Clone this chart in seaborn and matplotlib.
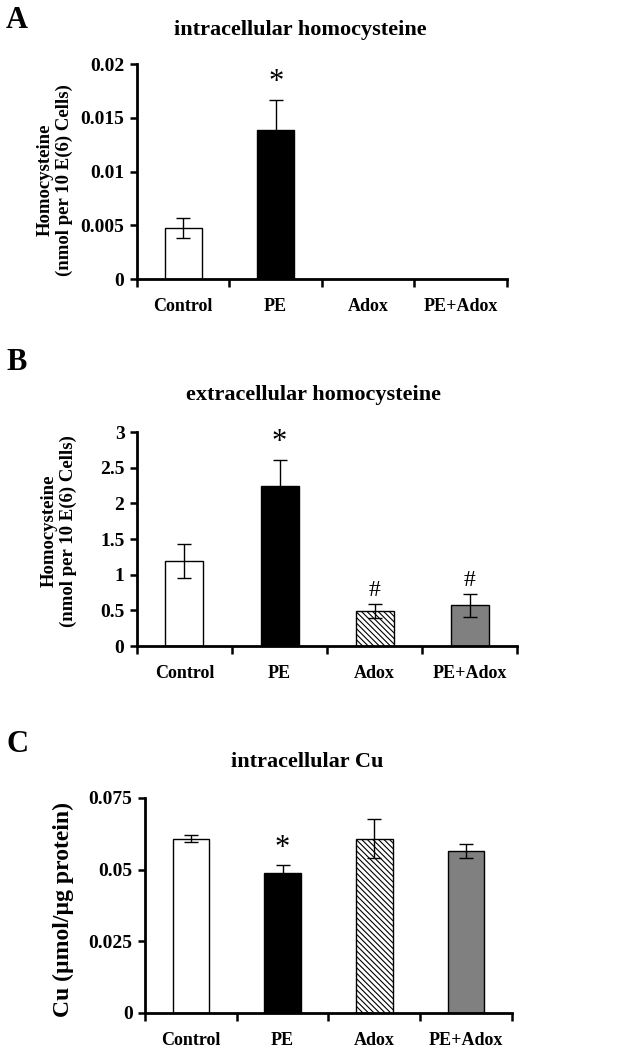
import numpy as np
import pandas as pd
import matplotlib
matplotlib.use('Agg')
import matplotlib.pyplot as plt
import seaborn as sns

# dados
grupos = ['Control', 'PE', 'Adox', 'PE+Adox']

hcy_intra = [0.00475, 0.0139, np.nan, np.nan]
hcy_intra_err = [0.00095, 0.0028, np.nan, np.nan]

hcy_extra = [1.19, 2.25, 0.49, 0.57]
hcy_extra_err = [0.24, 0.36, 0.10, 0.16]

cu_intra = [0.0608, 0.0487, 0.0608, 0.0565]
cu_intra_err = [0.0012, 0.0028, 0.0069, 0.0025]

sig_a = ['', '*', '', '']
sig_b = ['', '*', '#', '#']
sig_c = ['', '*', '', '']

cores = ['white', 'black', 'white', '#808080']
hachuras = [None, None, '\\\\\\\\\\\\', None]

sns.set_style('white')
plt.rcParams['font.family'] = ['Liberation Serif', 'DejaVu Serif']
plt.rcParams['font.weight'] = 'bold'
plt.rcParams['hatch.linewidth'] = 0.8
for chave in ['text.color', 'axes.labelcolor', 'xtick.color', 'ytick.color']:
    plt.rcParams[chave] = 'black'


def painel(ax, valores, erros, sinais, ymax, yticks, yticklabels, ylabel, ylabel_size, ylabel_pos):
    df = pd.DataFrame({'grupo': grupos, 'valor': valores})
    sns.barplot(data=df, x='grupo', y='valor', hue='grupo', palette=cores,
                width=0.4, edgecolor='black', linewidth=1.0, legend=False, ax=ax)
    for patch, h in zip(ax.patches, hachuras):
        if h:
            patch.set_hatch(h)
    x = np.arange(len(grupos))
    ax.errorbar(x, valores, yerr=erros, fmt='none', ecolor='black',
                elinewidth=1.0, capsize=5, capthick=1.0)
    for xi, v, e, s in zip(x, valores, erros, sinais):
        if s:
            ax.text(xi, v + e + ymax * 0.012, s, ha='center', va='bottom',
                    fontsize=22 if s == '*' else 17, fontweight='normal')
    ax.set_xlim(-0.5, 3.5)
    ax.set_ylim(0, ymax)
    ax.set_yticks(yticks)
    ax.set_yticklabels(yticklabels, fontsize=14, fontweight='bold')
    ax.set_xticks(x)
    ax.set_xticklabels(grupos, fontsize=13, fontweight='bold')
    ax.set_xticks([-0.5, 0.5, 1.5, 2.5, 3.5], minor=True)
    ax.tick_params(axis='x', which='major', length=0, pad=14)
    ax.tick_params(axis='x', which='minor', length=6, width=1.8, direction='out', bottom=True)
    ax.tick_params(axis='y', length=5, width=1.8, direction='out', left=True, pad=4)
    ax.set_xlabel('')
    ax.set_ylabel(ylabel, fontsize=ylabel_size, fontweight='bold', linespacing=1.15,
                  va='center', ha='center')
    ax.yaxis.set_label_coords(*ylabel_pos)
    sns.despine(ax=ax)
    for lado in ['left', 'bottom']:
        ax.spines[lado].set_linewidth(2)
        ax.spines[lado].set_color('black')


fig = plt.figure(figsize=(6.4, 10.51), dpi=100)

ax_a = fig.add_axes([0.214, 0.7345, 0.578, 0.2045])
ax_b = fig.add_axes([0.214, 0.3853, 0.594, 0.2036])
ax_c = fig.add_axes([0.2266, 0.0362, 0.573, 0.2046])

painel(ax_a, hcy_intra, hcy_intra_err, sig_a, 0.02,
       [0, 0.005, 0.01, 0.015, 0.02], ['0', '0.005', '0.01', '0.015', '0.02'],
       'Homocysteine\n(nmol per 10 E(6) Cells)', 13.5, (-0.222, 0.46))
painel(ax_b, hcy_extra, hcy_extra_err, sig_b, 3,
       [0, 0.5, 1, 1.5, 2, 2.5, 3], ['0', '0.5', '1', '1.5', '2', '2.5', '3'],
       'Homocysteine\n(nmol per 10 E(6) Cells)', 13.5, (-0.205, 0.537))
painel(ax_c, cu_intra, cu_intra_err, sig_c, 0.075,
       [0, 0.025, 0.05, 0.075], ['0', '0.025', '0.05', '0.075'],
       'Cu (µmol/µg protein)', 17, (-0.223, 0.48))

fig.text(300 / 640, 1 - 30 / 1051, 'intracellular homocysteine', ha='center', va='center',
         fontsize=16, fontweight='bold')
fig.text(313 / 640, 1 - 395 / 1051, 'extracellular homocysteine', ha='center', va='center',
         fontsize=16, fontweight='bold')
fig.text(307 / 640, 1 - 762 / 1051, 'intracellular Cu', ha='center', va='center',
         fontsize=16, fontweight='bold')

fig.text(6 / 640, 1 - 20 / 1051, 'A', ha='left', va='center', fontsize=22, fontweight='bold')
fig.text(6 / 640, 1 - 363 / 1051, 'B', ha='left', va='center', fontsize=22, fontweight='bold')
fig.text(6 / 640, 1 - 745 / 1051, 'C', ha='left', va='center', fontsize=22, fontweight='bold')

fig.savefig('out.png', dpi=100, facecolor='white')
plt.close()
